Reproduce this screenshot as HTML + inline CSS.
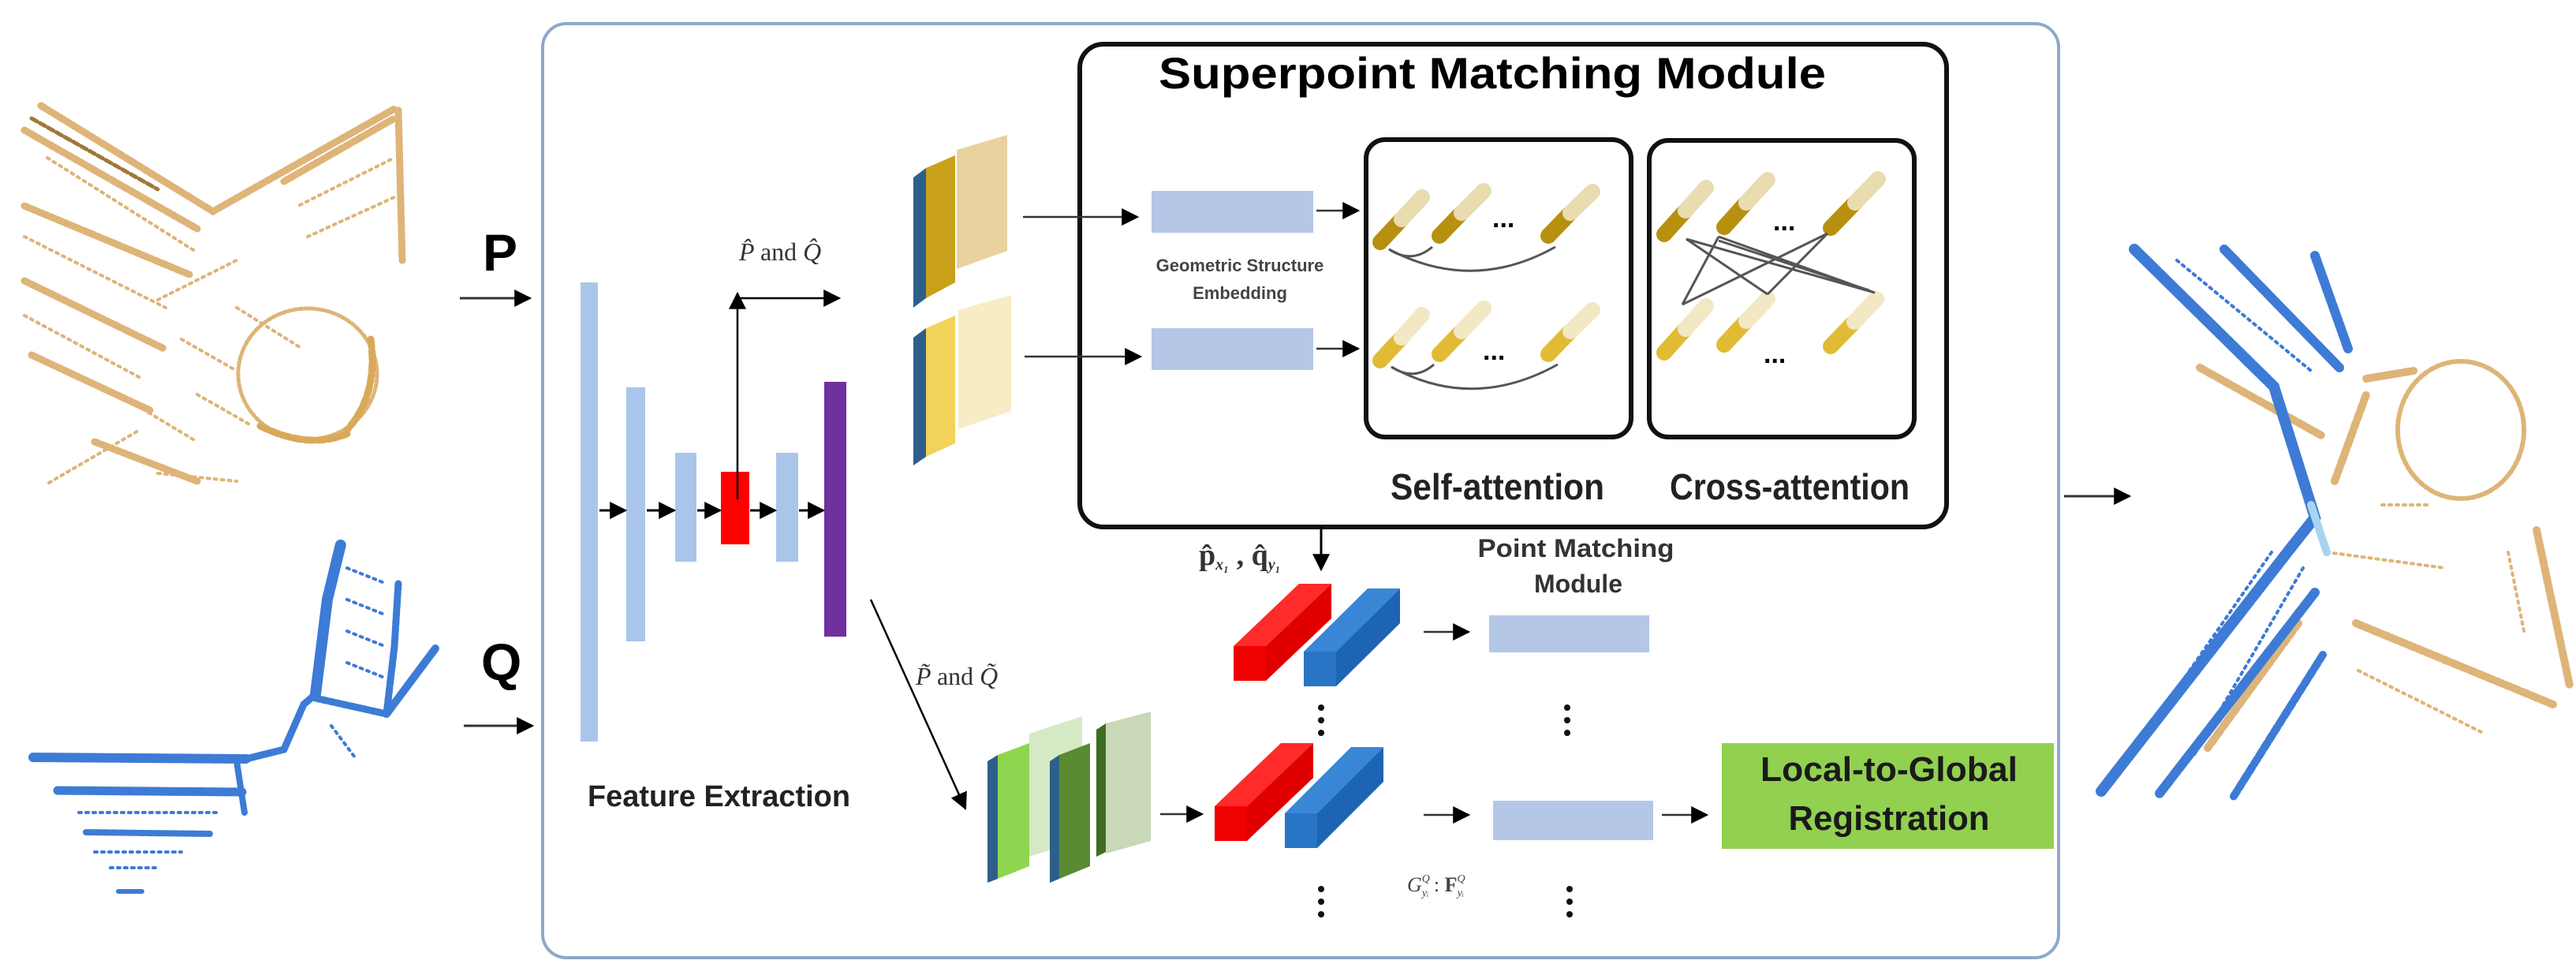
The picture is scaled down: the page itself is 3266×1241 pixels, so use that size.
<!DOCTYPE html>
<html><head><meta charset="utf-8"><style>
html,body{margin:0;padding:0;background:#fff;}
svg{display:block;}
text{font-family:"Liberation Sans",sans-serif;}
.s{font-family:"Liberation Serif",serif;}
</style></head><body>
<svg width="3266" height="1241" viewBox="0 0 3266 1241" xmlns="http://www.w3.org/2000/svg">
<defs>
<marker id="a" viewBox="0 0 10 10" refX="9" refY="5" markerWidth="7" markerHeight="7" orient="auto" markerUnits="userSpaceOnUse"><path d="M0,0L10,5L0,10z"/></marker>
<marker id="b" viewBox="0 0 10 10" refX="9" refY="5" markerWidth="22" markerHeight="22" orient="auto" markerUnits="userSpaceOnUse"><path d="M0,0L10,5L0,10z"/></marker>
</defs>

<!-- main box -->
<rect x="688" y="30" width="1922" height="1184" rx="30" fill="none" stroke="#8ea9c8" stroke-width="4"/>

<!-- superpoint box -->
<rect x="1369" y="56" width="1099" height="612" rx="30" fill="none" stroke="#111" stroke-width="6"/>
<text x="1469" y="112" font-size="56" font-weight="bold" textLength="846" lengthAdjust="spacingAndGlyphs">Superpoint Matching Module</text>
<rect x="1732" y="177" width="336" height="377" rx="24" fill="none" stroke="#111" stroke-width="6"/>
<rect x="2091" y="178" width="336" height="376" rx="24" fill="none" stroke="#111" stroke-width="6"/>
<text x="1763" y="633" font-size="46" font-weight="bold" textLength="271" lengthAdjust="spacingAndGlyphs" fill="#222">Self-attention</text>
<text x="2117" y="633" font-size="46" font-weight="bold" textLength="304" lengthAdjust="spacingAndGlyphs" fill="#222">Cross-attention</text>

<!-- capsules -->
<g stroke-linecap="round" stroke-width="20">
<!-- self row1 -->
<line x1="1750" y1="307" x2="1776" y2="279" stroke="#b8900f"/><line x1="1777" y1="278" x2="1803" y2="250" stroke="#e8dcb0"/>
<line x1="1825" y1="299" x2="1852" y2="271" stroke="#b8900f"/><line x1="1853" y1="270" x2="1881" y2="242" stroke="#e8dcb0"/>
<line x1="1963" y1="299" x2="1990" y2="271" stroke="#b8900f"/><line x1="1991" y1="270" x2="2019" y2="243" stroke="#e8dcb0"/>
<!-- self row2 -->
<line x1="1750" y1="457" x2="1776" y2="429" stroke="#e2bb35"/><line x1="1777" y1="428" x2="1803" y2="399" stroke="#f2e8c4"/>
<line x1="1825" y1="449" x2="1852" y2="421" stroke="#e2bb35"/><line x1="1853" y1="420" x2="1881" y2="391" stroke="#f2e8c4"/>
<line x1="1963" y1="449" x2="1990" y2="421" stroke="#e2bb35"/><line x1="1991" y1="420" x2="2019" y2="393" stroke="#f2e8c4"/>
<!-- cross row1 -->
<line x1="2110" y1="297" x2="2136" y2="268" stroke="#b8900f"/><line x1="2137" y1="267" x2="2163" y2="238" stroke="#e8dcb0"/>
<line x1="2186" y1="288" x2="2213" y2="258" stroke="#b8900f"/><line x1="2214" y1="257" x2="2241" y2="228" stroke="#e8dcb0"/>
<line x1="2321" y1="289" x2="2351" y2="258" stroke="#b8900f"/><line x1="2352" y1="257" x2="2381" y2="227" stroke="#e8dcb0"/>
<!-- cross row2 -->
<line x1="2110" y1="447" x2="2136" y2="418" stroke="#e2bb35"/><line x1="2137" y1="417" x2="2163" y2="388" stroke="#f2e8c4"/>
<line x1="2186" y1="437" x2="2213" y2="408" stroke="#e2bb35"/><line x1="2214" y1="407" x2="2241" y2="379" stroke="#f2e8c4"/>
<line x1="2321" y1="439" x2="2350" y2="409" stroke="#e2bb35"/><line x1="2351" y1="408" x2="2379" y2="379" stroke="#f2e8c4"/>
</g>
<g font-size="34" font-weight="bold">
<text x="1892" y="288">...</text><text x="1880" y="456">...</text>
<text x="2248" y="292">...</text><text x="2236" y="460">...</text>
</g>
<g fill="none" stroke="#555" stroke-width="3">
<path d="M1761,316 Q1867,372 1972,313"/><path d="M1761,316 Q1790,335 1816,313"/>
<path d="M1764,465 Q1867,522 1975,462"/><path d="M1764,465 Q1793,484 1818,462"/>
<path d="M2138,303 L2377,371 M2138,303 L2241,373 M2179,300 L2133,386 M2317,296 L2133,386 M2317,296 L2241,373 M2179,300 L2377,371 M2179,305 L2370,368"/>
</g>

<!-- inputs -->
<text x="612" y="343" font-size="66" font-weight="bold">P</text>
<text x="610" y="862" font-size="66" font-weight="bold">Q</text>
<g stroke="#333" stroke-width="3" marker-end="url(#b)">
<line x1="583" y1="378" x2="672" y2="378"/>
<line x1="588" y1="920" x2="675" y2="920"/>
<line x1="2617" y1="629" x2="2700" y2="629"/>
</g>

<!-- feature extraction -->
<rect x="736" y="358" width="22" height="582" fill="#a9c6ea"/>
<rect x="794" y="491" width="24" height="322" fill="#a9c6ea"/>
<rect x="856" y="574" width="27" height="138" fill="#a9c6ea"/>
<rect x="914" y="598" width="36" height="92" fill="#ff0000"/>
<rect x="984" y="574" width="28" height="138" fill="#a9c6ea"/>
<rect x="1045" y="484" width="28" height="323" fill="#7030a0"/>
<g stroke="#000" stroke-width="3" marker-end="url(#b)">
<line x1="760" y1="647" x2="793" y2="647"/>
<line x1="820" y1="647" x2="855" y2="647"/>
<line x1="884" y1="647" x2="913" y2="647"/>
<line x1="951" y1="647" x2="983" y2="647"/>
<line x1="1013" y1="647" x2="1044" y2="647"/>
</g>
<g stroke="#000" stroke-width="2.5" fill="none">
<line x1="935" y1="633" x2="935" y2="372" marker-end="url(#b)"/>
<line x1="935" y1="378" x2="1064" y2="378" marker-end="url(#b)"/>
<line x1="1104" y1="760" x2="1224" y2="1025" marker-end="url(#b)"/>
</g>
<text class="s" x="937" y="330" font-size="32" font-style="italic" fill="#333">P̂ <tspan font-style="normal">and</tspan> Q̂</text>
<text class="s" x="1161" y="868" font-size="32" font-style="italic" fill="#333">P̃ <tspan font-style="normal">and</tspan> Q̃</text>
<text x="745" y="1022" font-size="38" font-weight="bold" textLength="333" lengthAdjust="spacingAndGlyphs" fill="#222">Feature Extraction</text>

<!-- yellow blocks -->
<polygon points="1158,225 1174,213 1174,378 1158,390" fill="#2e5f8a"/>
<polygon points="1174,213 1211,197 1211,358 1174,378" fill="#c9a01a"/>
<polygon points="1213,190 1277,171 1277,318 1213,341" fill="#e8d29e"/>
<polygon points="1158,428 1174,416 1174,579 1158,590" fill="#2e5f8a"/>
<polygon points="1174,416 1211,400 1211,562 1174,579" fill="#f2d35a"/>
<polygon points="1215,393 1282,374 1282,521 1215,544" fill="#f8ecc4"/>
<g stroke="#333" stroke-width="2.5" marker-end="url(#b)">
<line x1="1297" y1="275" x2="1442" y2="275"/>
<line x1="1299" y1="452" x2="1446" y2="452"/>
<line x1="1669" y1="267" x2="1722" y2="267"/>
<line x1="1669" y1="442" x2="1722" y2="442"/>
</g>
<rect x="1460" y="242" width="205" height="53" fill="#b4c7e7"/>
<rect x="1460" y="416" width="205" height="53" fill="#b4c7e7"/>
<text x="1572" y="344" font-size="22" font-weight="bold" text-anchor="middle" fill="#444">Geometric Structure</text>
<text x="1572" y="379" font-size="22" font-weight="bold" text-anchor="middle" fill="#444">Embedding</text>

<!-- p q label + arrow -->
<text class="s" x="1520" y="716" font-size="38" font-weight="bold" fill="#333">p̂<tspan font-size="20" font-style="italic" dy="6">x₁</tspan><tspan dy="-6"> , q̂</tspan><tspan font-size="20" font-style="italic" dy="6">y₁</tspan></text>
<line x1="1675" y1="668" x2="1675" y2="722" stroke="#000" stroke-width="3" marker-end="url(#b)"/>

<!-- prisms row1 -->
<polygon points="1564,819 1647,740 1688,740 1605,819" fill="#ff2a2a"/>
<polygon points="1605,819 1688,740 1688,784 1605,863" fill="#e00000"/>
<rect x="1564" y="819" width="41" height="44" fill="#f00000"/>
<polygon points="1653,826 1734,746 1775,746 1694,826" fill="#3a86d6"/>
<polygon points="1694,826 1775,746 1775,790 1694,870" fill="#1d64b4"/>
<rect x="1653" y="826" width="41" height="44" fill="#2a74c6"/>
<!-- prisms row2 -->
<polygon points="1540,1022 1624,942 1665,942 1581,1022" fill="#ff2a2a"/>
<polygon points="1581,1022 1665,942 1665,986 1581,1066" fill="#e00000"/>
<rect x="1540" y="1022" width="41" height="44" fill="#f00000"/>
<polygon points="1629,1031 1713,947 1754,947 1670,1031" fill="#3a86d6"/>
<polygon points="1670,1031 1754,947 1754,991 1670,1075" fill="#1d64b4"/>
<rect x="1629" y="1031" width="41" height="44" fill="#2a74c6"/>

<!-- green blocks -->
<polygon points="1305,930 1372,908 1372,1064 1305,1086" fill="#d5e9c4"/>
<polygon points="1252,965 1265,957 1265,1114 1252,1119" fill="#2e5f8a"/>
<polygon points="1265,957 1305,942 1305,1098 1265,1114" fill="#8fd650"/>
<polygon points="1331,965 1343,957 1343,1114 1331,1119" fill="#2e5f8a"/>
<polygon points="1343,957 1382,942 1382,1098 1343,1114" fill="#5a8a32"/>
<polygon points="1390,925 1402,917 1402,1080 1390,1086" fill="#3f6d22"/>
<polygon points="1402,917 1459,902 1459,1066 1402,1082" fill="#c8d8b8"/>
<g stroke="#333" stroke-width="2.5" marker-end="url(#b)">
<line x1="1471" y1="1032" x2="1524" y2="1032"/>
<line x1="1805" y1="801" x2="1862" y2="801"/>
<line x1="1805" y1="1033" x2="1862" y2="1033"/>
<line x1="2107" y1="1033" x2="2164" y2="1033"/>
</g>
<rect x="1888" y="780" width="203" height="47" fill="#b4c7e7"/>
<rect x="1893" y="1015" width="203" height="50" fill="#b4c7e7"/>
<text x="1998" y="706" font-size="32" font-weight="bold" text-anchor="middle" textLength="249" lengthAdjust="spacingAndGlyphs" fill="#333">Point Matching</text>
<text x="2001" y="751" font-size="32" font-weight="bold" text-anchor="middle" fill="#333">Module</text>
<g fill="#111">
<circle cx="1675" cy="897" r="4"/><circle cx="1675" cy="913" r="4"/><circle cx="1675" cy="929" r="4"/>
<circle cx="1987" cy="897" r="4"/><circle cx="1987" cy="913" r="4"/><circle cx="1987" cy="929" r="4"/>
<circle cx="1675" cy="1127" r="4"/><circle cx="1675" cy="1143" r="4"/><circle cx="1675" cy="1159" r="4"/>
<circle cx="1990" cy="1127" r="4"/><circle cx="1990" cy="1143" r="4"/><circle cx="1990" cy="1159" r="4"/>
</g>
<text class="s" x="1784" y="1130" font-size="26" font-style="italic" fill="#444">G<tspan font-size="14" dy="-12">Q</tspan><tspan font-size="14" dy="18" dx="-10">yᵢ</tspan><tspan font-style="normal" dy="-6"> : </tspan><tspan font-weight="bold" font-style="normal">F</tspan><tspan font-size="14" dy="-12">Q</tspan><tspan font-size="14" dy="18" dx="-10">yᵢ</tspan></text>

<rect x="2183" y="942" width="421" height="134" fill="#92d050"/>
<text x="2395" y="990" font-size="44" font-weight="bold" text-anchor="middle" textLength="326" lengthAdjust="spacingAndGlyphs" fill="#1a1a1a">Local-to-Global</text>
<text x="2395" y="1052" font-size="44" font-weight="bold" text-anchor="middle" textLength="255" lengthAdjust="spacingAndGlyphs" fill="#1a1a1a">Registration</text>

<!-- tan cloud left -->
<g fill="none" stroke="#deb478" stroke-linecap="round">
<g stroke-width="9" stroke-dasharray="6 3">
<path d="M52,134 L270,268 L500,138"/>
<path d="M31,165 L250,290"/>
<path d="M31,261 L240,348"/>
<path d="M31,356 L208,442"/>
<path d="M360,230 L500,150"/>
<path d="M40,450 L190,520"/>
<path d="M505,140 L510,330"/>
<path d="M120,560 L250,610"/>
</g>
<g stroke-width="4" stroke-dasharray="3 6">
<path d="M31,300 L210,390 M31,400 L180,480 M60,200 L250,320 M380,260 L500,200 M390,300 L500,250 M200,380 L300,330 M300,390 L380,440 M150,500 L250,560 M62,612 L177,545"/>
<ellipse cx="390" cy="474" rx="88" ry="83" stroke-width="5" stroke-dasharray="4 3"/>
<path d="M230,430 L300,470 M250,500 L320,540 M200,600 L300,610"/>
</g>
<path d="M40,150 L200,240" stroke="#a07838" stroke-width="5" stroke-dasharray="8 4"/>
<path d="M470,430 Q480,500 440,545 M330,540 Q390,570 440,550" stroke="#d9a95a" stroke-width="9" stroke-dasharray="10 5"/>
</g>

<!-- blue cloud left -->
<g fill="none" stroke="#3d7bd6" stroke-linecap="round">
<path d="M42,960 L312,962" stroke-width="12" stroke-dasharray="10 2"/>
<path d="M73,1002 L307,1004" stroke-width="11" stroke-dasharray="10 2"/>
<path d="M109,1055 L266,1057" stroke-width="8" stroke-dasharray="8 3"/>
<path d="M150,1130 L180,1130" stroke-width="6"/>
<path d="M312,962 L360,950 L385,893 L400,880" stroke-width="9"/>
<path d="M400,880 L415,760 L432,690" stroke-width="14" stroke-dasharray="12 3"/>
<path d="M505,740 L500,820 L490,905" stroke-width="9" stroke-dasharray="8 3"/>
<path d="M490,905 L552,822" stroke-width="10"/>
<path d="M400,885 L490,905" stroke-width="9" stroke-dasharray="6 3"/>
<g stroke-width="4" stroke-dasharray="3 6">
<path d="M440,720 L490,740 M440,760 L490,780 M440,800 L490,820 M440,840 L490,860 M100,1030 L280,1030 M120,1080 L230,1080 M140,1100 L200,1100 M420,920 L450,960"/>
</g>
<path d="M300,965 L310,1030" stroke-width="8"/>
</g>

<!-- merged cloud right -->
<g fill="none" stroke-linecap="round">
<g stroke="#deb478">
<ellipse cx="3120" cy="545" rx="80" ry="87" stroke-width="6" stroke-dasharray="5 3"/>
<path d="M2789,466 L2945,553 M2987,790 L3237,893 M2914,790 L2799,948 M3216,672 L3258,869 M2960,610 L3000,500 M3000,480 L3060,470" stroke-width="10" stroke-dasharray="8 4"/>
<path d="M2950,700 L3100,720 M2990,850 L3150,930 M3020,640 L3080,640 M3180,700 L3200,800" stroke-width="4" stroke-dasharray="3 6"/>
</g>
<g stroke="#3d7bd6">
<path d="M2706,316 L2883,490 L2935,656 L2904,695 L2664,1003" stroke-width="14" stroke-dasharray="12 3"/>
<path d="M2820,316 L2966,466" stroke-width="12" stroke-dasharray="10 3"/>
<path d="M2935,324 L2977,442" stroke-width="12" stroke-dasharray="10 3"/>
<path d="M2935,751 L2737,1007" stroke-width="12" stroke-dasharray="10 3"/>
<path d="M2945,830 L2831,1011" stroke-width="10" stroke-dasharray="8 4"/>
<path d="M2760,330 L2930,470 M2880,700 L2700,960 M2920,720 L2780,960" stroke-width="4" stroke-dasharray="3 6"/>
</g>
<path d="M2930,640 L2950,700" stroke="#a8d4f0" stroke-width="10"/>
</g>
</svg>
</body></html>
